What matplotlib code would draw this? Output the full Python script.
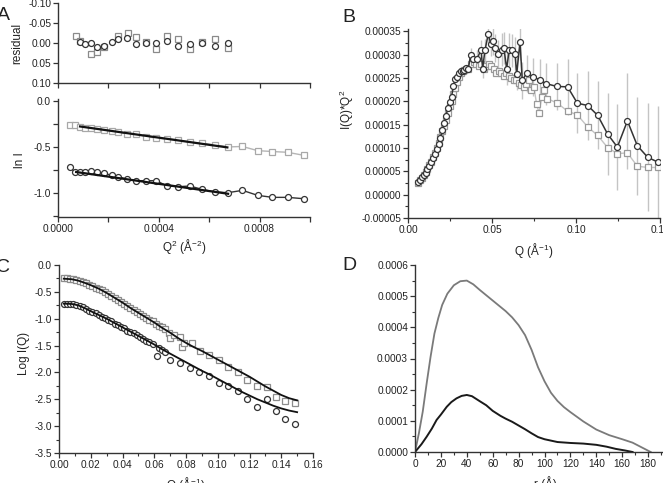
"""Four-panel SAXS summary: Guinier fit, Kratky plot, log I(Q) with fits, P(r)."""

import matplotlib
matplotlib.use("Agg")
import matplotlib.pyplot as plt
from matplotlib.ticker import MultipleLocator, FormatStrFormatter

plt.rcParams["font.family"] = ["Liberation Sans", "DejaVu Sans"]
plt.rcParams["axes.unicode_minus"] = False
plt.rcParams["mathtext.fontset"] = "custom"
plt.rcParams["mathtext.rm"] = "Liberation Sans"
plt.rcParams["mathtext.default"] = "regular"

# -----------------------------------------------------------------------------
# Data
# -----------------------------------------------------------------------------

# Panel A, residuals
res_sq_q2 = [0.0000717, 0.0000876, 0.000130, 0.000154, 0.000181, 0.000240, 0.000277,
             0.000311, 0.000351, 0.000390, 0.000433, 0.000477, 0.000523, 0.000572,
             0.000623, 0.000675]
res_sq = [-0.0175, -0.004, 0.027, 0.022, 0.009, -0.018, -0.024, -0.016, -0.003, 0.016,
          -0.018, -0.009, 0.015, -0.003, -0.009, 0.012]
res_ci_q2 = [0.0000876, 0.000108, 0.000130, 0.000154, 0.000181, 0.000214, 0.000240,
             0.000274, 0.000311, 0.000351, 0.000390, 0.000433, 0.000477, 0.000523,
             0.000572, 0.000623, 0.000675]
res_ci = [-0.002, 0.003, 0.001, 0.009, 0.0075, -0.003, -0.009, -0.012, 0.0025, -0.001,
          -0.001, -0.006, 0.0075, 0.0025, 0.001, 0.0075, 0.001]

# Panel A, Guinier data
guinier_q2 = [0.0000478, 0.0000677, 0.0000876, 0.000108, 0.000130, 0.000154, 0.000181,
              0.000214, 0.000240, 0.000274, 0.000311, 0.000351, 0.000390, 0.000433,
              0.000477, 0.000523, 0.000572, 0.000623, 0.000675, 0.000732, 0.000792,
              0.000851, 0.000911, 0.000977]
ln_i_sq = [-0.261, -0.261, -0.286, -0.290, -0.297, -0.304, -0.315, -0.326, -0.340,
           -0.359, -0.362, -0.388, -0.405, -0.413, -0.424, -0.449, -0.460, -0.478,
           -0.500, -0.495, -0.540, -0.550, -0.558, -0.592]
ln_i_ci = [-0.721, -0.775, -0.775, -0.775, -0.757, -0.772, -0.786, -0.808, -0.822,
           -0.851, -0.866, -0.866, -0.866, -0.924, -0.931, -0.924, -0.960, -0.989,
           -0.996, -0.971, -1.025, -1.047, -1.047, -1.062]
fit_sq_q2 = [0.0000876, 0.000672]
fit_sq = [-0.278, -0.505]
fit_ci_q2 = [0.000072, 0.000675]
fit_ci = [-0.772, -1.008]

# Panel B, Kratky plot
kr_ci_q = [0.0061, 0.0072, 0.0083, 0.0094, 0.0105, 0.0116, 0.0127, 0.0138, 0.0149, 0.0160,
           0.0171, 0.0182, 0.0193, 0.0204, 0.0215, 0.0226, 0.0237, 0.0248, 0.0259, 0.0270,
           0.0281, 0.0292, 0.0303, 0.0314, 0.0325, 0.0336, 0.0347, 0.0359, 0.0373, 0.0385,
           0.0410, 0.0435, 0.0444, 0.0458, 0.0478, 0.0492, 0.0508, 0.0518, 0.0538, 0.0558,
           0.0571, 0.0587, 0.0603, 0.0617, 0.0637, 0.0647, 0.0667, 0.0680, 0.0706, 0.0745,
           0.0786, 0.0821, 0.0885, 0.0950, 0.1008, 0.1070, 0.1129, 0.1188, 0.1246, 0.1306,
           0.1365, 0.1427, 0.1486]
kr_ci = [2.76e-5, 3.2e-5, 3.7e-5, 4.2e-5, 4.7e-5, 5.4e-5, 6.2e-5, 7.0e-5, 7.9e-5, 8.8e-5,
         9.8e-5, 1.09e-4, 1.21e-4, 1.38e-4, 1.54e-4, 1.68e-4, 1.85e-4, 1.98e-4, 2.10e-4,
         2.32e-4, 2.48e-4, 2.52e-4, 2.60e-4, 2.64e-4, 2.66e-4, 2.68e-4, 2.72e-4, 2.70e-4,
         3.00e-4, 2.91e-4, 2.90e-4, 3.11e-4, 2.70e-4, 3.09e-4, 3.45e-4, 3.23e-4, 3.30e-4,
         3.14e-4, 3.02e-4, 3.11e-4, 3.14e-4, 2.70e-4, 3.11e-4, 3.09e-4, 3.02e-4, 2.59e-4,
         3.28e-4, 2.45e-4, 2.60e-4, 2.52e-4, 2.46e-4, 2.38e-4, 2.32e-4, 2.31e-4, 1.96e-4,
         1.91e-4, 1.70e-4, 1.30e-4, 1.02e-4, 1.58e-4, 1.05e-4, 0.80e-4, 0.70e-4]
kr_ci_err = [2e-6] * 28 + [1.5e-5, 1.5e-5, 2e-5, 2e-5, 2e-5, 2.5e-5, 2.5e-5, 2.5e-5,
             3e-5, 3e-5, 3e-5, 3.5e-5, 3.5e-5, 3.5e-5, 3.5e-5, 3.5e-5, 3.5e-5, 3.5e-5,
             4e-5, 4e-5, 4e-5, 4e-5, 4.5e-5, 4.5e-5, 5e-5, 6e-5, 6.4e-5, 7.3e-5, 7.3e-5,
             8.7e-5, 9.3e-5, 1.03e-4, 1.05e-4, 1.16e-4, 1.19e-4]
kr_sq_q = [0.0061, 0.0072, 0.0083, 0.0094, 0.0105, 0.0116, 0.0127, 0.0138, 0.0149, 0.0160,
           0.0171, 0.0182, 0.0193, 0.0204, 0.0215, 0.0226, 0.0237, 0.0248, 0.0259, 0.0270,
           0.0281, 0.0292, 0.0303, 0.0314, 0.0325, 0.0336, 0.0347, 0.0358, 0.0375, 0.0390,
           0.0405, 0.0420, 0.0435, 0.0450, 0.0465, 0.0480, 0.0495, 0.0510, 0.0525, 0.0540,
           0.0555, 0.0570, 0.0585, 0.0600, 0.0615, 0.0630, 0.0645, 0.0660, 0.0675, 0.0690,
           0.0705, 0.0722, 0.0735, 0.0750, 0.0765, 0.0780, 0.0796, 0.0810, 0.0829, 0.0889,
           0.0950, 0.1008, 0.1070, 0.1129, 0.1188, 0.1246, 0.1306, 0.1365, 0.1427, 0.1486]
kr_sq = [2.6e-5, 3.1e-5, 3.6e-5, 4.2e-5, 4.8e-5, 5.5e-5, 6.3e-5, 7.1e-5, 8.0e-5, 9.0e-5,
         1.00e-4, 1.11e-4, 1.24e-4, 1.36e-4, 1.48e-4, 1.60e-4, 1.75e-4, 1.90e-4, 2.00e-4,
         2.15e-4, 2.28e-4, 2.42e-4, 2.53e-4, 2.60e-4, 2.64e-4, 2.67e-4, 2.70e-4, 2.70e-4,
         2.80e-4, 2.85e-4, 2.80e-4, 2.75e-4, 2.80e-4, 2.70e-4, 2.75e-4, 2.80e-4, 2.75e-4,
         2.70e-4, 2.60e-4, 2.65e-4, 2.60e-4, 2.55e-4, 2.60e-4, 2.55e-4, 2.50e-4, 2.45e-4,
         2.45e-4, 2.40e-4, 2.35e-4, 2.30e-4, 2.38e-4, 2.45e-4, 2.25e-4, 2.30e-4, 1.95e-4,
         1.75e-4, 2.09e-4, 2.24e-4, 2.06e-4, 1.96e-4, 1.79e-4, 1.71e-4, 1.45e-4, 1.27e-4,
         1.01e-4, 0.88e-4, 0.895e-4, 0.61e-4, 0.583e-4, 0.583e-4]

# Panel C, log I(Q) with model fits
log_sq_q = [0.003, 0.005, 0.007, 0.009, 0.011, 0.013, 0.015, 0.017, 0.019, 0.021, 0.023,
            0.025, 0.027, 0.029, 0.031, 0.033, 0.035, 0.037, 0.039, 0.041, 0.043, 0.045,
            0.047, 0.049, 0.051, 0.053, 0.055, 0.057, 0.059, 0.061, 0.063, 0.065, 0.067,
            0.069, 0.0699, 0.0725, 0.0762, 0.0773, 0.079, 0.0836, 0.0888, 0.0947, 0.101,
            0.1067, 0.1126, 0.1186, 0.1245, 0.1308, 0.1367, 0.1424, 0.1487]
log_sq = [-0.25, -0.25, -0.26, -0.26, -0.28, -0.30, -0.32, -0.34, -0.37, -0.39, -0.42,
          -0.45, -0.47, -0.51, -0.54, -0.57, -0.61, -0.65, -0.68, -0.72, -0.76, -0.80,
          -0.84, -0.88, -0.91, -0.95, -0.99, -1.02, -1.05, -1.10, -1.13, -1.16, -1.20,
          -1.27, -1.365, -1.30, -1.335, -1.52, -1.45, -1.459, -1.595, -1.676, -1.77,
          -1.894, -1.987, -2.14, -2.25, -2.28, -2.46, -2.53, -2.576]
log_ci_q = [0.003, 0.005, 0.007, 0.009, 0.011, 0.013, 0.015, 0.017, 0.019, 0.021, 0.023,
            0.025, 0.027, 0.029, 0.031, 0.033, 0.035, 0.037, 0.039, 0.041, 0.043, 0.045,
            0.047, 0.049, 0.051, 0.053, 0.055, 0.057, 0.059, 0.0615, 0.063, 0.065, 0.0668,
            0.0699, 0.0762, 0.0825, 0.0884, 0.0947, 0.101, 0.1067, 0.1126, 0.1186, 0.1245,
            0.1308, 0.1367, 0.1424, 0.1487]
log_ci = [-0.72, -0.72, -0.72, -0.73, -0.74, -0.77, -0.79, -0.82, -0.85, -0.87, -0.90,
          -0.93, -0.96, -0.99, -1.02, -1.05, -1.09, -1.12, -1.15, -1.18, -1.22, -1.25,
          -1.27, -1.30, -1.34, -1.37, -1.41, -1.44, -1.47, -1.69, -1.55, -1.58, -1.614,
          -1.77, -1.83, -1.925, -1.987, -2.067, -2.19, -2.253, -2.34, -2.50, -2.65, -2.50,
          -2.71, -2.87, -2.96]
fit_q = [0.003, 0.008, 0.012, 0.016, 0.020, 0.025, 0.030, 0.035, 0.040, 0.045, 0.050,
         0.055, 0.060, 0.065, 0.070, 0.075, 0.080, 0.085, 0.090, 0.095, 0.100, 0.105,
         0.110, 0.115, 0.120, 0.125, 0.130, 0.135, 0.140, 0.145, 0.150]
fit_upper = [-0.255, -0.265, -0.29, -0.33, -0.375, -0.44, -0.52, -0.61, -0.70, -0.80,
             -0.89, -0.98, -1.07, -1.17, -1.26, -1.36, -1.45, -1.53, -1.60, -1.68, -1.76,
             -1.84, -1.92, -2.00, -2.08, -2.17, -2.26, -2.34, -2.42, -2.48, -2.52]
fit_lower = [-0.72, -0.725, -0.75, -0.80, -0.86, -0.93, -1.00, -1.08, -1.16, -1.24,
             -1.32, -1.40, -1.48, -1.57, -1.65, -1.73, -1.81, -1.89, -1.97, -2.04, -2.12,
             -2.20, -2.28, -2.36, -2.43, -2.50, -2.56, -2.62, -2.67, -2.71, -2.74]

# Panel D, pair distance distributions
pr_gray_r = [0, 3, 6, 9, 12, 15, 18, 21, 25, 30, 35, 40, 45, 50, 55, 60, 65, 70, 75, 80,
             85, 90, 95, 100, 105, 110, 115, 120, 130, 140, 150, 160, 168, 175, 182]
pr_gray = [0, 0.6e-4, 1.3e-4, 2.2e-4, 3.05e-4, 3.8e-4, 4.3e-4, 4.72e-4, 5.08e-4, 5.35e-4,
           5.48e-4, 5.5e-4, 5.38e-4, 5.2e-4, 5.03e-4, 4.86e-4, 4.69e-4, 4.52e-4, 4.32e-4,
           4.07e-4, 3.75e-4, 3.28e-4, 2.72e-4, 2.27e-4, 1.9e-4, 1.64e-4, 1.44e-4, 1.28e-4,
           0.98e-4, 0.72e-4, 0.54e-4, 0.41e-4, 0.3e-4, 0.15e-4, 0]
pr_black_r = [0, 5, 9, 13, 16.7, 20, 24.5, 28, 32, 36, 40, 44, 50, 55, 60, 66, 70, 75, 80,
              85, 90, 95, 100, 110, 120, 130, 140, 148, 155, 162, 168]
pr_black = [0, 0.25e-4, 0.49e-4, 0.75e-4, 1.03e-4, 1.2e-4, 1.45e-4, 1.6e-4, 1.72e-4,
            1.8e-4, 1.83e-4, 1.79e-4, 1.63e-4, 1.5e-4, 1.32e-4, 1.16e-4, 1.07e-4, 0.97e-4,
            0.85e-4, 0.73e-4, 0.6e-4, 0.48e-4, 0.41e-4, 0.32e-4, 0.29e-4, 0.27e-4, 0.23e-4,
            0.17e-4, 0.1e-4, 0.05e-4, 0]

# -----------------------------------------------------------------------------
# Figure layout in pixels
# -----------------------------------------------------------------------------

W, H = 663, 483
fig = plt.figure(figsize=(W / 100, H / 100), dpi=100)

TEXT = "#222222"
DARK = "#333333"
GRAY = "#999999"
LIGHT = "#c4c4c4"


def pixel_axes(left, top, right, bottom):
    # place an axes from pixel edges measured from the top-left corner
    return fig.add_axes([left / W, 1 - bottom / H, (right - left) / W, (bottom - top) / H])


def origin_style(ax):
    # only left and bottom axes, outward ticks
    ax.spines["top"].set_visible(False)
    ax.spines["right"].set_visible(False)
    for side in ["left", "bottom"]:
        ax.spines[side].set_linewidth(1.0)
        ax.spines[side].set_color(DARK)
    ax.tick_params(which="major", direction="out", length=3.5, width=0.9,
                   labelsize=7.3, colors=DARK, labelcolor=TEXT, pad=1.5)
    ax.tick_params(which="minor", direction="out", length=2, width=0.8, colors=DARK)
    ax.patch.set_alpha(0)


open_sq = dict(marker="s", ms=4, mfc="white", mew=0.9)
open_ci = dict(marker="o", ms=4.3, mfc="white", mew=0.9)

# -----------------------------------------------------------------------------
# A: residuals and Guinier plot
# -----------------------------------------------------------------------------

ax_res = pixel_axes(58, 3, 310, 83)
origin_style(ax_res)
ax_res.plot(res_sq_q2, res_sq, ls="none", mec="#8a8a8a", **open_sq)
ax_res.plot(res_ci_q2, res_ci, ls="none", mec=DARK, **open_ci)
ax_res.set_xlim(0, 0.001)
ax_res.set_ylim(0.10, -0.10)
ax_res.xaxis.set_major_locator(MultipleLocator(0.0002))
ax_res.set_xticklabels([])
ax_res.yaxis.set_major_locator(MultipleLocator(0.05))
ax_res.yaxis.set_major_formatter(FormatStrFormatter("%.2f"))

ax_a = pixel_axes(58, 99, 310, 217)
origin_style(ax_a)
ax_a.plot(guinier_q2, ln_i_sq, color="#b5b5b5", lw=1.0, mec="#a8a8a8", **open_sq)
ax_a.plot(guinier_q2, ln_i_ci, color=DARK, lw=1.0, mec=DARK, **open_ci)
ax_a.plot(fit_sq_q2, fit_sq, color="#111111", lw=1.6)
ax_a.plot(fit_ci_q2, fit_ci, color="#111111", lw=1.6)
ax_a.set_xlim(0, 0.001)
ax_a.set_ylim(-1.26, 0.02)
ax_a.xaxis.set_major_locator(MultipleLocator(0.0004))
ax_a.xaxis.set_minor_locator(MultipleLocator(0.0002))
ax_a.xaxis.set_major_formatter(FormatStrFormatter("%.4f"))
ax_a.yaxis.set_major_locator(MultipleLocator(0.5))
ax_a.yaxis.set_minor_locator(MultipleLocator(0.25))
ax_a.yaxis.set_major_formatter(FormatStrFormatter("%.1f"))
ax_a.tick_params(which="minor", length=3.5, width=0.9)

fig.text(17 / W, 1 - 43 / H, "residual", rotation=90, ha="center", va="center",
         fontsize=8.5, color=TEXT)
fig.text(20 / W, 1 - 160 / H, "ln I", rotation=90, ha="center", va="center",
         fontsize=8.5, color=TEXT)
fig.text(184 / W, 1 - 247 / H, "Q$^2$ (Å$^{-2}$)", ha="center", va="center",
         fontsize=8.5, color=TEXT)

# -----------------------------------------------------------------------------
# B: Kratky plot
# -----------------------------------------------------------------------------

ax_b = pixel_axes(408, 29, 660, 218)
origin_style(ax_b)
ax_b.errorbar(kr_ci_q, kr_ci, yerr=kr_ci_err, fmt="none", ecolor=LIGHT, elinewidth=1.0,
              capsize=0, zorder=1)
ax_b.plot(kr_sq_q, kr_sq, color=LIGHT, lw=1.0, mec=GRAY, zorder=2, **open_sq)
ax_b.plot(kr_ci_q, kr_ci, color=DARK, lw=1.1, mec=DARK, zorder=3, **open_ci)
ax_b.set_xlim(0, 0.15)
ax_b.set_ylim(-0.00005, 0.000355)
ax_b.xaxis.set_major_locator(MultipleLocator(0.05))
ax_b.xaxis.set_minor_locator(MultipleLocator(0.025))
ax_b.xaxis.set_major_formatter(FormatStrFormatter("%.2f"))
ax_b.yaxis.set_major_locator(MultipleLocator(0.00005))
ax_b.yaxis.set_minor_locator(MultipleLocator(0.000025))
ax_b.yaxis.set_major_formatter(FormatStrFormatter("%.5f"))

fig.text(347 / W, 1 - 110 / H, "I(Q)*Q$^2$", rotation=90, ha="center", va="center",
         fontsize=8.5, color=TEXT)
fig.text(534 / W, 1 - 251 / H, "Q (Å$^{-1}$)", ha="center", va="center",
         fontsize=8.5, color=TEXT)

# -----------------------------------------------------------------------------
# C: log I(Q)
# -----------------------------------------------------------------------------

ax_c = pixel_axes(59, 265, 313, 453)
origin_style(ax_c)
ax_c.plot(log_sq_q, log_sq, ls="none", mec="#8c8c8c", **open_sq)
ax_c.plot(log_ci_q, log_ci, ls="none", mec=DARK, **open_ci)
ax_c.plot(fit_q, fit_upper, color="#111111", lw=1.3)
ax_c.plot(fit_q, fit_lower, color="#111111", lw=1.3)
ax_c.set_xlim(0, 0.16)
ax_c.set_ylim(-3.5, 0.0)
ax_c.xaxis.set_major_locator(MultipleLocator(0.02))
ax_c.xaxis.set_minor_locator(MultipleLocator(0.01))
ax_c.xaxis.set_major_formatter(FormatStrFormatter("%.2f"))
ax_c.yaxis.set_major_locator(MultipleLocator(0.5))
ax_c.yaxis.set_minor_locator(MultipleLocator(0.25))
ax_c.yaxis.set_major_formatter(FormatStrFormatter("%.1f"))

fig.text(24 / W, 1 - 353 / H, "Log I(Q)", rotation=90, ha="center", va="center",
         fontsize=8.5, color=TEXT)
fig.text(186 / W, 1 - 484 / H, "Q (Å$^{-1}$)", ha="center", va="center",
         fontsize=8.5, color=TEXT)

# -----------------------------------------------------------------------------
# D: P(r)
# -----------------------------------------------------------------------------

ax_d = pixel_axes(415, 265, 674, 452)
origin_style(ax_d)
ax_d.plot(pr_gray_r, pr_gray, color="#7a7a7a", lw=1.3)
ax_d.plot(pr_black_r, pr_black, color="#1a1a1a", lw=1.4)
ax_d.set_xlim(0, 200)
ax_d.set_ylim(0, 0.0006)
ax_d.xaxis.set_major_locator(MultipleLocator(20))
ax_d.xaxis.set_minor_locator(MultipleLocator(10))
ax_d.xaxis.set_major_formatter(FormatStrFormatter("%d"))
ax_d.yaxis.set_major_locator(MultipleLocator(0.0001))
ax_d.yaxis.set_minor_locator(MultipleLocator(0.00005))
ax_d.yaxis.set_major_formatter(FormatStrFormatter("%.4f"))

fig.text(545 / W, 1 - 484 / H, "r (Å)", ha="center", va="center",
         fontsize=8.5, color=TEXT)

# Panel letters
for x, y, letter in [(3, 15, "A"), (349, 18, "B"), (3, 268, "C"), (349, 266, "D")]:
    fig.text(x / W, 1 - y / H, letter, ha="center", va="center", fontsize=14, color=TEXT)

fig.savefig("out.png", dpi=100)
